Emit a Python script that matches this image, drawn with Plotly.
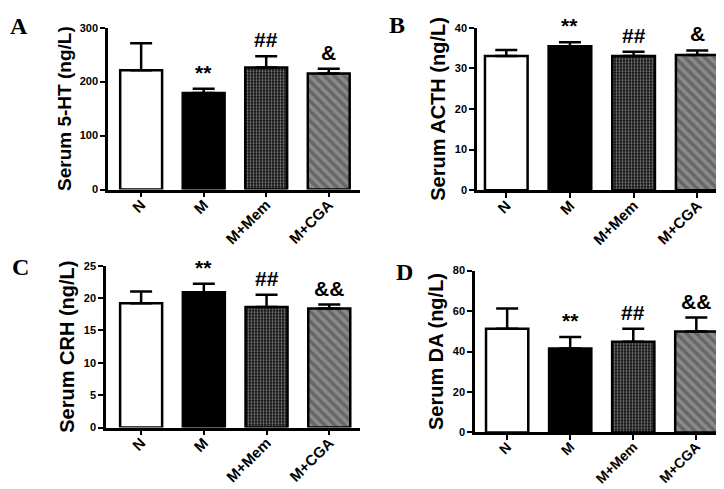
import plotly.graph_objects as go

groups = ["N", "M", "M+Mem", "M+CGA"]

serum_5ht = [221, 179, 226, 215]
serum_5ht_err = [50, 8, 21, 9]
serum_acth = [33.0, 35.4, 33.0, 33.3]
serum_acth_err = [1.5, 1.0, 1.1, 1.1]
serum_crh = [19.2, 20.9, 18.6, 18.4]
serum_crh_err = [1.8, 1.3, 1.9, 0.6]
serum_da = [51.3, 41.5, 44.8, 49.9]
serum_da_err = [9.9, 5.7, 6.4, 6.9]

sig_ab = ["", "**", "##", "&"]
sig_cd = ["", "**", "##", "&&"]

titles = ["Serum 5-HT (ng/L)", "Serum ACTH (ng/L)", "Serum CRH (ng/L)", "Serum DA (ng/L)"]
letters = ["A", "B", "C", "D"]
ymax = [300, 40, 25, 80]
ydtick = [100, 10, 5, 20]

W, H = 724, 489
panels = [
    (100, 352, 14, 180, [-0.53, 3.5]),
    (469, 723, 14, 180.7, [-0.46, 3.53]),
    (98, 352, 258, 424, [-0.56, 3.49]),
    (467, 723, 263, 429, [-0.51, 3.55]),
]
letter_pos = [(11, 12), (389, 11), (12, 259), (396, 264)]
xtick_size = [15, 15, 15, 14]
ytick_size = [11, 11, 11, 11]
title_size = [19, 20, 20, 20]

data = [
    (serum_5ht, serum_5ht_err, sig_ab),
    (serum_acth, serum_acth_err, sig_ab),
    (serum_crh, serum_crh_err, sig_cd),
    (serum_da, serum_da_err, sig_cd),
]

fig = go.Figure()
font_sans = dict(family="Liberation Sans, Arial", color="black")

for i, ((vals, errs, sigs), (xl, xr, yt, yb, xr_rng)) in enumerate(zip(data, panels)):
    n = "" if i == 0 else str(i + 1)
    xa, ya = "x" + n, "y" + n
    fig.add_trace(go.Bar(
        x=groups, y=vals, xaxis=xa, yaxis=ya, width=0.67,
        marker=dict(
            color=["white", "black", "#141414", "#8a8a8a"],
            line=dict(color="black", width=2.5),
            pattern=dict(
                shape=["", "", ".", "\\"],
                fgcolor=["white", "black", "#3c3c3c", "black"],
                size=[8, 8, 3, 7],
                solidity=[0.3, 0.3, 0.35, 0.5],
                fillmode="overlay",
            ),
        ),
        error_y=dict(type="data", array=errs, arrayminus=[0, 0, 0, 0], symmetric=False,
                     thickness=2.5, width=11, color="black"),
        showlegend=False,
    ))
    yt_vals = list(range(0, ymax[i] + 1, ydtick[i]))
    fig.update_layout(**{
        ("xaxis" + n): dict(
            domain=[xl / W, xr / W], anchor=ya, range=xr_rng,
            showline=True, linecolor="black", linewidth=2.5,
            ticks="outside", ticklen=5, tickwidth=2, tickcolor="black",
            tickvals=groups, ticktext=["<b>%s</b>" % g for g in groups],
            ticklabelstandoff=-7,
            tickangle=-45, tickfont=dict(size=xtick_size[i], **font_sans),
            showgrid=False, zeroline=False,
        ),
        ("yaxis" + n): dict(
            domain=[1 - yb / H, 1 - yt / H], anchor=xa, range=[0, ymax[i]],
            tickvals=yt_vals, ticktext=["<b>%d</b>" % v for v in yt_vals],
            showline=True, linecolor="black", linewidth=2.5,
            ticks="outside", ticklen=5, tickwidth=2, tickcolor="black",
            tickfont=dict(size=ytick_size[i], **font_sans), showgrid=False, zeroline=False,
            title=dict(text="<b>%s</b>" % titles[i], font=dict(size=title_size[i], **font_sans),
                       standoff=4),
        ),
    })
    for g, v, e, s in zip(groups, vals, errs, sigs):
        if s:
            fig.add_annotation(x=g, y=v + e, xref=xa, yref=ya, text="<b>%s</b>" % s,
                               showarrow=False, yanchor="bottom", yshift=3,
                               font=dict(size=21, **font_sans))
    lx, ly = letter_pos[i]
    fig.add_annotation(x=lx / W, y=1 - ly / H, xref="paper", yref="paper",
                       text="<b>%s</b>" % letters[i],
                       showarrow=False, xanchor="center", yanchor="middle",
                       font=dict(family="Liberation Serif, Times New Roman", size=24, color="black"))

fig.update_layout(width=W, height=H, margin=dict(l=0, r=0, t=0, b=0),
                  plot_bgcolor="white", paper_bgcolor="white")
fig.write_html("out.html")
